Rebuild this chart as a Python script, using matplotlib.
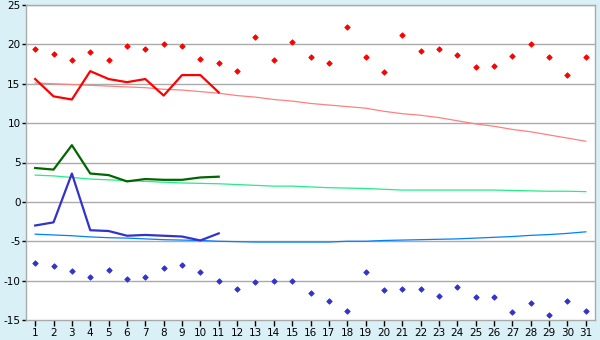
import matplotlib
matplotlib.use("Agg")
import matplotlib.pyplot as plt

days = list(range(1, 32))

# record highs / lows (points)
max_pts = [19.4, 18.8, 18.0, 19.0, 18.0, 19.8, 19.4, 20.0, 19.8, 18.1,
           17.6, 16.6, 21.0, 18.0, 20.3, 18.4, 17.6, 22.2, 18.4, 16.5,
           21.2, 19.1, 19.4, 18.7, 17.1, 17.3, 18.5, 20.0, 18.4, 16.1, 18.4]
min_pts = [-7.8, -8.2, -8.8, -9.6, -8.6, -9.8, -9.5, -8.4, -8.0, -8.9,
           -10.0, -11.1, -10.2, -10.0, -10.0, -11.6, -12.6, -13.9, -8.9, -11.2,
           -11.1, -11.1, -12.0, -10.8, -12.1, -12.1, -14.0, -12.8, -14.4, -12.6, -13.9]

# current month (first 11 days)
cur_days = days[:11]
cur_max = [15.6, 13.4, 13.0, 16.6, 15.6, 15.2, 15.6, 13.5, 16.1, 16.1, 13.9]
cur_mean = [4.3, 4.1, 7.2, 3.6, 3.4, 2.6, 2.9, 2.8, 2.8, 3.1, 3.2]
cur_min = [-3.0, -2.6, 3.6, -3.6, -3.7, -4.3, -4.2, -4.3, -4.4, -4.9, -4.0]

# normals
norm_max = [15.1, 15.0, 14.9, 14.8, 14.7, 14.6, 14.5, 14.3, 14.2, 14.0,
            13.8, 13.5, 13.3, 13.0, 12.8, 12.5, 12.3, 12.1, 11.9, 11.5,
            11.2, 11.0, 10.7, 10.3, 9.9, 9.6, 9.2, 8.9, 8.5, 8.1, 7.7]
norm_mean = [3.4, 3.3, 3.1, 2.9, 2.8, 2.7, 2.6, 2.5, 2.4, 2.35,
             2.3, 2.2, 2.1, 2.0, 2.0, 1.9, 1.8, 1.75, 1.7, 1.6,
             1.5, 1.5, 1.5, 1.5, 1.5, 1.5, 1.45, 1.4, 1.35, 1.35, 1.3]
norm_min = [-4.1, -4.2, -4.3, -4.45, -4.55, -4.6, -4.7, -4.8, -4.85, -4.9,
            -5.0, -5.05, -5.1, -5.1, -5.1, -5.1, -5.1, -5.0, -5.0, -4.9,
            -4.85, -4.8, -4.75, -4.7, -4.6, -4.5, -4.4, -4.25, -4.15, -4.0, -3.8]

bg = '#d9f0f7'
fig = plt.figure(figsize=(6, 3.4), dpi=100, facecolor=bg)
ax = fig.add_axes([26/600, 20/340, 569/600, 315/340])
ax.set_facecolor('white')

for y in range(-10, 30, 5):
    ax.axhline(y, color='#aaaaaa', lw=1.0, zorder=0)

ax.plot(days, norm_max, color='#ff8080', lw=0.9)
ax.plot(days, norm_mean, color='#22ee88', lw=0.9)
ax.plot(days, norm_min, color='#0080ff', lw=0.9)

ax.plot(cur_days, cur_max, color='#ff0000', lw=1.6)
ax.plot(cur_days, cur_mean, color='#006600', lw=1.6)
ax.plot(cur_days, cur_min, color='#3333cc', lw=1.6)

ax.plot(days, max_pts, ls='none', marker='D', ms=2.8, color='#ff0000', mec='#ff0000', mew=0.6)
ax.plot(days, min_pts, ls='none', marker='D', ms=2.8, color='#3333cc', mec='#3333cc', mew=0.6)

ax.set_xlim(0.5, 31.5)
ax.set_ylim(-15, 25)
ax.set_xticks(days)
ax.set_yticks(range(-15, 30, 5))
ax.set_yticklabels([str(v) for v in range(-15, 30, 5)])
for s in ax.spines.values():
    s.set_color('#aaaaaa')
    s.set_linewidth(1.0)
ax.tick_params(axis='both', colors='black', labelsize=7.5, length=4, width=1, pad=2)
ax.tick_params(axis='y', length=3, pad=1)

plt.savefig('out.png', dpi=100, facecolor=bg)
